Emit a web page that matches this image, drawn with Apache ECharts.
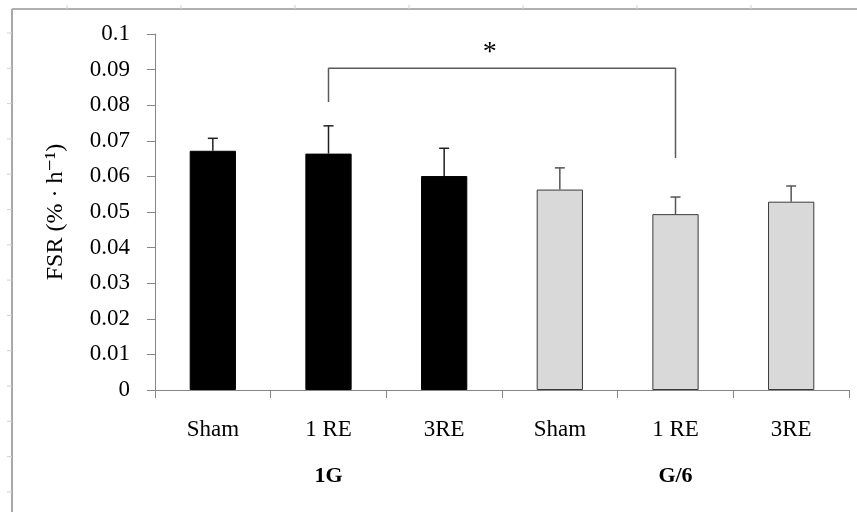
<!DOCTYPE html>
<html>
<head>
<meta charset="utf-8">
<script src="https://cdn.jsdelivr.net/npm/echarts@6/dist/echarts.min.js"></script>
<style>
  html, body { margin: 0; padding: 0; background: #fff; }
  #chart { width: 857px; height: 512px; }
</style>
</head>
<body>
<div id="chart"></div>
<script>
// data
const categories = ["Sham", "1 RE", "3RE", "Sham", "1 RE", "3RE"];
const groupLabels = ["", "1G", "", "", "G/6", ""];
const fsrMean = [0.0672, 0.0664, 0.0601, 0.0563, 0.0494, 0.0529];
const fsrErrTop = [0.0707, 0.0742, 0.0679, 0.0624, 0.0542, 0.0573];
const barColors = ["#000000", "#000000", "#000000", "#d9d9d9", "#d9d9d9", "#d9d9d9"];
const yMin = 0, yMax = 0.1, yStep = 0.01;
// significance bracket: [category index, value]
const bracket = [[1, 0.0809], [1, 0.0904], [4, 0.0904], [4, 0.0652]];
const starValue = 0.0948;

const serif = "'Liberation Serif', 'DejaVu Serif', serif";
const axisGray = "#868686";

let chart = echarts.init(document.getElementById("chart"));

// sheet-like frame (top & left border with faint ruler ticks)
const frame = [
  { type: "line", shape: { x1: 12, y1: 9, x2: 857, y2: 9 }, style: { stroke: "#b0b0b0", lineWidth: 2 } },
  { type: "line", shape: { x1: 12, y1: 9, x2: 12, y2: 512 }, style: { stroke: "#a8a8a8", lineWidth: 2 } },
];
for (let k = 0; k < 7; k++) {
  let x = 67 + 114 * k;
  frame.push({ type: "line", shape: { x1: x, y1: 5, x2: x, y2: 9 }, style: { stroke: "#cfd0d8", lineWidth: 1 } });
}
for (let k = 0; k < 14; k++) {
  let y = 33 + 35.3 * k;
  frame.push({ type: "line", shape: { x1: 7, y1: y, x2: 12, y2: y }, style: { stroke: "#cfd0d8", lineWidth: 1 } });
}

const option = {
  animation: false,
  backgroundColor: "#ffffff",
  graphic: frame,
  grid: { left: 155, right: 8, top: 34, bottom: 122, containLabel: false },
  xAxis: [
    {
      type: "category",
      data: categories,
      boundaryGap: true,
      axisLine: { lineStyle: { color: axisGray, width: 1 } },
      axisTick: { show: true, length: 8, lineStyle: { color: axisGray } },
      axisLabel: { color: "#000", fontFamily: serif, fontSize: 23, margin: 28, interval: 0 },
    },
    {
      type: "category",
      data: groupLabels,
      position: "bottom",
      gridIndex: 0,
      axisLine: { show: false },
      axisTick: { show: false },
      axisLabel: { color: "#000", fontFamily: serif, fontSize: 22, fontWeight: "bold", margin: 75, interval: 0 },
    },
  ],
  yAxis: {
    type: "value",
    min: yMin,
    max: yMax,
    interval: yStep,
    name: "FSR (% · h⁻¹)",
    nameLocation: "middle",
    nameGap: 87,
    nameRotate: 90,
    nameTextStyle: { color: "#000", fontFamily: serif, fontSize: 24 },
    axisLine: { show: true, lineStyle: { color: axisGray, width: 1 } },
    axisTick: { show: true, length: 8, lineStyle: { color: axisGray } },
    splitLine: { show: false },
    axisLabel: {
      color: "#000",
      fontFamily: serif,
      fontSize: 23,
      margin: 25,
      formatter: (v) => String(+v.toFixed(2)),
    },
  },
  series: [
    {
      type: "bar",
      barWidth: "40%",
      data: fsrMean.map((v, i) => ({
        value: v,
        itemStyle: { color: barColors[i], borderColor: i < 3 ? "#000" : "#3a3a3a", borderWidth: 1 },
      })),
      z: 2,
    },
    {
      // error bars (upper only)
      type: "custom",
      data: fsrMean.map((v, i) => [i, v, fsrErrTop[i]]),
      encode: { x: 0, y: [1, 2] },
      z: 3,
      renderItem: (params, api) => {
        const base = api.coord([api.value(0), api.value(1)]);
        const top = api.coord([api.value(0), api.value(2)]);
        const cap = 5;
        const st = { stroke: params.dataIndex < 3 ? "#202020" : "#555555", lineWidth: 1.5 };
        return {
          type: "group",
          children: [
            { type: "line", shape: { x1: base[0], y1: base[1], x2: top[0], y2: top[1] }, style: st },
            { type: "line", shape: { x1: top[0] - cap, y1: top[1], x2: top[0] + cap, y2: top[1] }, style: st },
          ],
        };
      },
    },
    {
      // significance bracket
      type: "line",
      data: bracket,
      symbol: "none",
      lineStyle: { color: "#5a5a5a", width: 1.5 },
      z: 3,
    },
    {
      // asterisk
      type: "custom",
      data: [[bracket[1][0], bracket[2][0], starValue]],
      encode: { x: 0, y: 2 },
      renderItem: (params, api) => {
        const a = api.coord([api.value(0), api.value(2)]);
        const b = api.coord([api.value(1), api.value(2)]);
        return {
          type: "text",
          style: {
            x: a[0] + (b[0] - a[0]) * 0.465,
            y: a[1],
            text: "*",
            fill: "#000",
            font: "28px " + serif,
            align: "center",
            verticalAlign: "middle",
          },
        };
      },
    },
  ],
};

chart.setOption(option);
window.addEventListener("resize", () => chart.resize());
</script>
</body>
</html>
